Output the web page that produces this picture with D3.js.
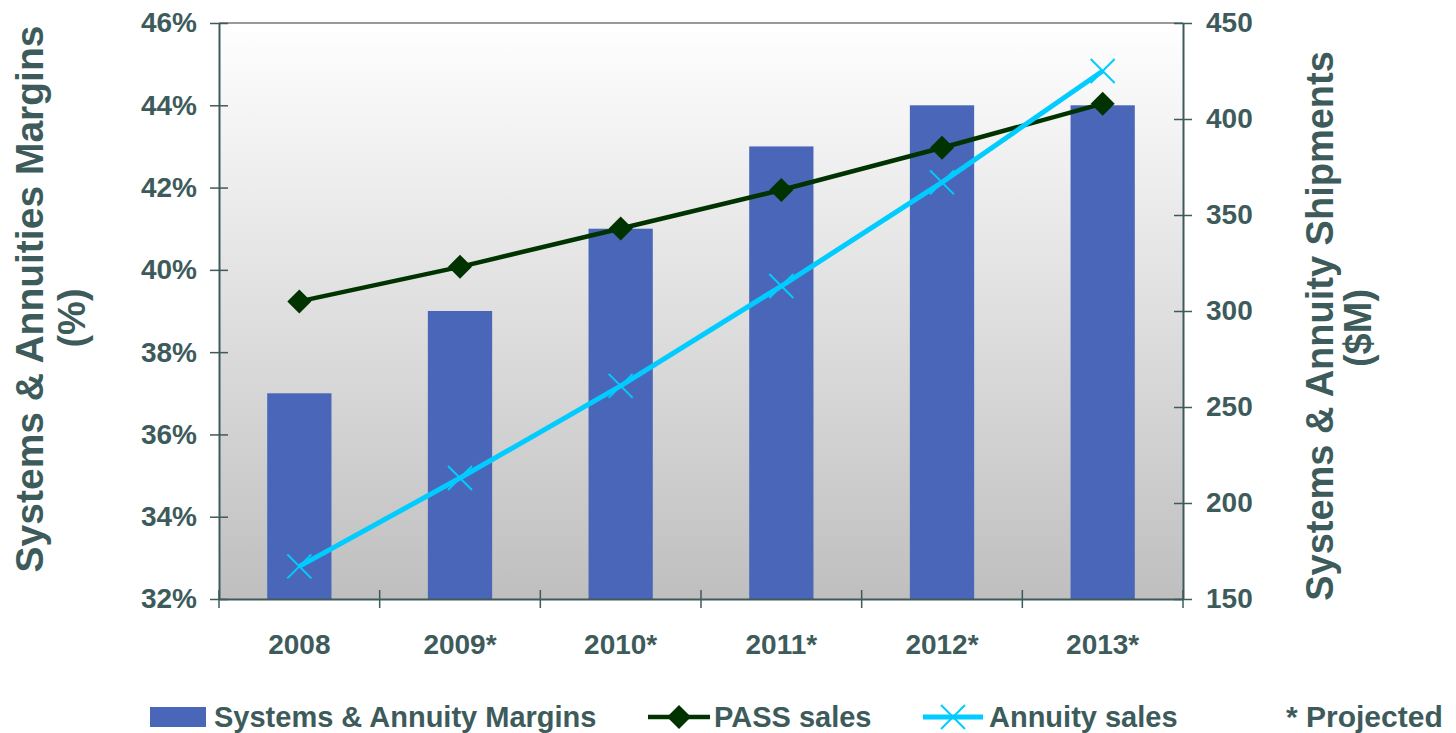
<!DOCTYPE html>
<html>
<head>
<meta charset="utf-8">
<script src="https://cdn.jsdelivr.net/npm/d3@7"></script>
<style>
  html, body { margin: 0; padding: 0; background: #ffffff; }
  svg { display: block; }
  text { font-family: "Liberation Sans", Arial, sans-serif; font-weight: bold; fill: #3e5b5b; }
</style>
</head>
<body>
<svg id="chart" width="1456" height="733"></svg>
<script>
// Categories and series
const categories = ["2008", "2009*", "2010*", "2011*", "2012*", "2013*"];
const margins = [37, 39, 41, 43, 44, 44];            // % (left axis)
const passSales = [305, 323, 343, 363, 385, 408];     // $M (right axis)
const annuitySales = [167, 213, 261, 313, 367, 425];  // $M (right axis)
const leftTicks = [32, 34, 36, 38, 40, 42, 44, 46];
const rightTicks = [150, 200, 250, 300, 350, 400, 450];

const textColor = "#3e5b5b";
const axisColor = "#3e5b5b";
const barColor = "#4a66b8";
const passColor = "#003300";
const annuityColor = "#00ccff";

const svg = d3.select("#chart");
const plot = { left: 219, right: 1183, top: 23, bottom: 599 };

const x = d3.scaleBand().domain(categories).range([plot.left, plot.right]).padding(0);
const yL = d3.scaleLinear().domain([32, 46]).range([plot.bottom, plot.top]);
const yR = d3.scaleLinear().domain([150, 450]).range([plot.bottom, plot.top]);

// Plot-area background gradient
const defs = svg.append("defs");
const grad = defs.append("linearGradient").attr("id", "bg").attr("x1", 0).attr("y1", 0).attr("x2", 0).attr("y2", 1);
grad.append("stop").attr("offset", "0%").attr("stop-color", "#ffffff");
grad.append("stop").attr("offset", "100%").attr("stop-color", "#bfbfbf");

svg.append("rect")
  .attr("x", plot.left).attr("y", plot.top)
  .attr("width", plot.right - plot.left).attr("height", plot.bottom - plot.top)
  .attr("fill", "url(#bg)");

// Top border of plot area
svg.append("line")
  .attr("x1", plot.left).attr("x2", plot.right)
  .attr("y1", plot.top).attr("y2", plot.top)
  .attr("stroke", "#999999").attr("stroke-width", 2);

// Bars: margins
const barW = x.bandwidth() * 0.4;
svg.append("g").selectAll("rect")
  .data(categories)
  .join("rect")
  .attr("x", (d) => x(d) + x.bandwidth() / 2 - barW / 2)
  .attr("width", barW)
  .attr("y", (d, i) => yL(margins[i]))
  .attr("height", (d, i) => yL(32) - yL(margins[i]))
  .attr("fill", barColor);

// Left axis
const gL = svg.append("g").attr("transform", `translate(${plot.left},0)`)
  .call(d3.axisLeft(yL).tickValues(leftTicks).tickFormat((d) => d + "%").tickSize(9).tickSizeOuter(0).tickPadding(13));
gL.select(".domain").attr("stroke", axisColor).attr("stroke-width", 2);
gL.selectAll(".tick line").attr("x1", 9).attr("x2", -9).attr("stroke", axisColor).attr("stroke-width", 1.5);
gL.selectAll(".tick text").style("font-size", "28px").attr("fill", textColor)
  .style("font-family", "'Liberation Sans', Arial, sans-serif").style("font-weight", "bold");

// Right axis
const gR = svg.append("g").attr("transform", `translate(${plot.right},0)`)
  .call(d3.axisRight(yR).tickValues(rightTicks).tickSize(9).tickSizeOuter(0).tickPadding(14));
gR.select(".domain").attr("stroke", axisColor).attr("stroke-width", 2);
gR.selectAll(".tick line").attr("x1", -9).attr("x2", 9).attr("stroke", axisColor).attr("stroke-width", 1.5);
gR.selectAll(".tick text").style("font-size", "28px").attr("fill", textColor)
  .style("font-family", "'Liberation Sans', Arial, sans-serif").style("font-weight", "bold");

// Bottom axis: labels at category centres, ticks at category boundaries
const gB = svg.append("g").attr("transform", `translate(0,${plot.bottom})`)
  .call(d3.axisBottom(x).tickSize(0).tickSizeOuter(0).tickPadding(35));
gB.select(".domain").attr("stroke", axisColor).attr("stroke-width", 2);
gB.selectAll(".tick text").style("font-size", "28px").attr("fill", textColor)
  .style("font-family", "'Liberation Sans', Arial, sans-serif").style("font-weight", "bold");
const boundaries = categories.map((d) => x(d)).concat([plot.right]);
gB.append("g").selectAll("line")
  .data(boundaries)
  .join("line")
  .attr("x1", (d) => d).attr("x2", (d) => d)
  .attr("y1", -9).attr("y2", 9)
  .attr("stroke", axisColor).attr("stroke-width", 1.5);

const cx = (d) => x(d) + x.bandwidth() / 2;

// PASS sales line with diamond markers
const diamond = "M0,-12L12,0L0,12L-12,0Z";
svg.append("path")
  .datum(passSales)
  .attr("fill", "none").attr("stroke", passColor).attr("stroke-width", 4.5)
  .attr("d", d3.line().x((d, i) => cx(categories[i])).y((d) => yR(d)));
svg.append("g").selectAll("path")
  .data(passSales)
  .join("path")
  .attr("transform", (d, i) => `translate(${cx(categories[i])},${yR(d)})`)
  .attr("d", diamond).attr("fill", passColor);

// Annuity sales line with X markers
const cross = "M-12,-12L12,12M-12,12L12,-12";
svg.append("path")
  .datum(annuitySales)
  .attr("fill", "none").attr("stroke", annuityColor).attr("stroke-width", 5)
  .attr("d", d3.line().x((d, i) => cx(categories[i])).y((d) => yR(d)));
svg.append("g").selectAll("path")
  .data(annuitySales)
  .join("path")
  .attr("transform", (d, i) => `translate(${cx(categories[i])},${yR(d)})`)
  .attr("d", cross).attr("fill", "none").attr("stroke", annuityColor).attr("stroke-width", 2);

// Axis titles
const leftTitle = svg.append("g");
leftTitle.append("text").attr("transform", "translate(43,299) rotate(-90)")
  .attr("text-anchor", "middle").style("font-size", "39px").text("Systems & Annuities Margins");
leftTitle.append("text").attr("transform", "translate(85,318) rotate(-90)")
  .attr("text-anchor", "middle").style("font-size", "38px").text("(%)");

const rightTitle = svg.append("g");
rightTitle.append("text").attr("transform", "translate(1333,326) rotate(-90)")
  .attr("text-anchor", "middle").style("font-size", "38px").text("Systems & Annuity Shipments");
rightTitle.append("text").attr("transform", "translate(1371,328) rotate(-90)")
  .attr("text-anchor", "middle").style("font-size", "38px").text("($M)");

// Legend
const lg = svg.append("g");
const ly = 717;
lg.append("rect").attr("x", 150).attr("y", ly - 10).attr("width", 56).attr("height", 20).attr("fill", barColor);
lg.append("text").attr("x", 214).attr("y", ly + 10).style("font-size", "29px").text("Systems & Annuity Margins");

lg.append("line").attr("x1", 648).attr("x2", 710).attr("y1", ly).attr("y2", ly)
  .attr("stroke", passColor).attr("stroke-width", 4.5);
lg.append("path").attr("transform", `translate(679,${ly})`).attr("d", diamond).attr("fill", passColor);
lg.append("text").attr("x", 714).attr("y", ly + 10).style("font-size", "29px").text("PASS sales");

lg.append("line").attr("x1", 923).attr("x2", 983).attr("y1", ly).attr("y2", ly)
  .attr("stroke", annuityColor).attr("stroke-width", 5);
lg.append("path").attr("transform", `translate(953,${ly})`).attr("d", cross)
  .attr("fill", "none").attr("stroke", annuityColor).attr("stroke-width", 2);
lg.append("text").attr("x", 989).attr("y", ly + 10).style("font-size", "29px").text("Annuity sales");

lg.append("text").attr("x", 1286).attr("y", ly + 10).style("font-size", "30px").text("* Projected");
</script>
</body>
</html>
